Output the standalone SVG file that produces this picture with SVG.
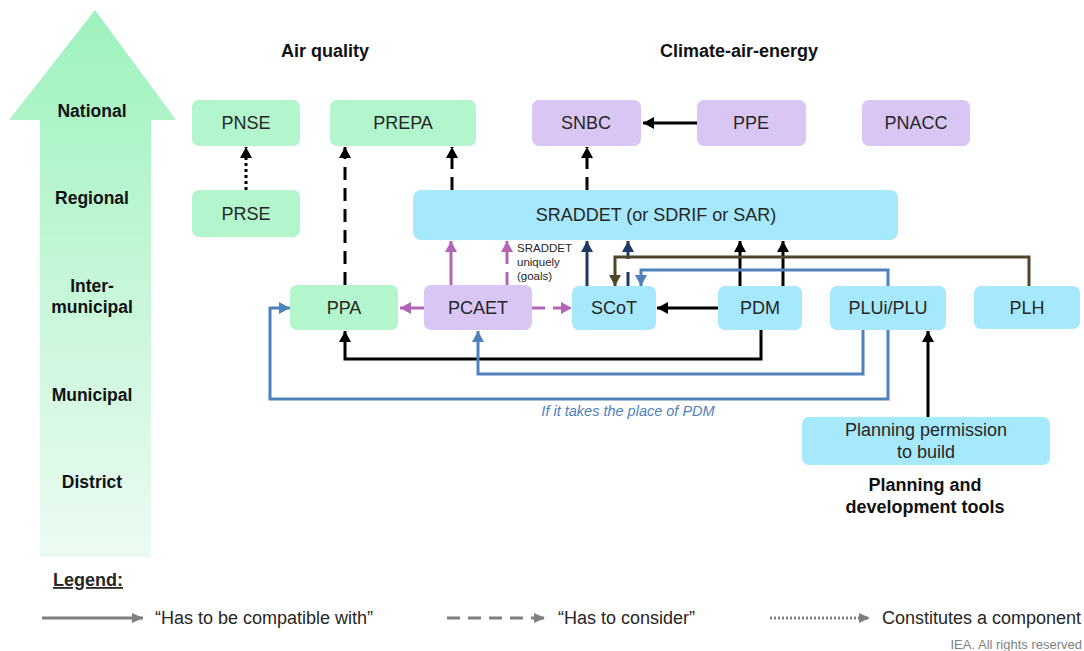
<svg xmlns="http://www.w3.org/2000/svg" width="1084" height="651" viewBox="0 0 1084 651">
  <defs>
    <linearGradient id="levelGrad" x1="0" y1="0" x2="0" y2="1">
      <stop offset="0" stop-color="#9ef2be"/>
      <stop offset="1" stop-color="#ecfbf2"/>
    </linearGradient>
    <marker id="ahBlack" markerUnits="userSpaceOnUse" markerWidth="12" markerHeight="12" refX="11" refY="6" orient="auto">
      <path d="M0,0 L11,6 L0,12 z" fill="#000"/>
    </marker>
    <marker id="ahNavy" markerUnits="userSpaceOnUse" markerWidth="12" markerHeight="12" refX="11" refY="6" orient="auto">
      <path d="M0,0 L11,6 L0,12 z" fill="#1f3864"/>
    </marker>
    <marker id="ahPurple" markerUnits="userSpaceOnUse" markerWidth="12" markerHeight="12" refX="11" refY="6" orient="auto">
      <path d="M0,0 L11,6 L0,12 z" fill="#b464b4"/>
    </marker>
    <marker id="ahBlue" markerUnits="userSpaceOnUse" markerWidth="12" markerHeight="12" refX="11" refY="6" orient="auto">
      <path d="M0,0 L11,6 L0,12 z" fill="#4f81bd"/>
    </marker>
    <marker id="ahBrown" markerUnits="userSpaceOnUse" markerWidth="12" markerHeight="12" refX="11" refY="6" orient="auto">
      <path d="M0,0 L11,6 L0,12 z" fill="#4f4629"/>
    </marker>
    <marker id="ahGray" markerUnits="userSpaceOnUse" markerWidth="12" markerHeight="12" refX="11" refY="6" orient="auto">
      <path d="M0,1 L11,6 L0,11 z" fill="#7f7f7f"/>
    </marker>
  </defs>
  <style>
    .lvl { font-family: "Liberation Sans", Arial, sans-serif; font-size: 17.5px; font-weight: bold; fill: #111; text-anchor: middle; }
    .hdr { font-family: "Liberation Sans", Arial, sans-serif; font-size: 18px; font-weight: bold; fill: #111; text-anchor: middle; }
    .box { stroke: none; }
    .green { fill: #b3f5cc; }
    .purple { fill: #d9c6f5; }
    .blue { fill: #a6e8fc; }
    .lbl { font-family: "Liberation Sans", Arial, sans-serif; font-size: 18px; fill: #262626; text-anchor: middle; }
    .c { fill: none; stroke-width: 3; }
    .k { stroke: #000; }
    .navy { stroke: #1f3864; }
    .pur { stroke: #b464b4; }
    .bl { stroke: #4f81bd; }
    .br { stroke: #4f4629; }
    .dash { stroke-dasharray: 13 8; }
    .dot { stroke-dasharray: 3 3; }
    .note { font-family: "Liberation Sans", Arial, sans-serif; font-size: 11.5px; fill: #262626; }
    .leg { font-family: "Liberation Sans", Arial, sans-serif; font-size: 18px; fill: #262626; }
  </style>

  <!-- vertical governance-level arrow -->
  <g id="levels">
    <path d="M95,10 L176,120 L151,120 L151,557 L40,557 L40,120 L9,120 Z" fill="url(#levelGrad)"/>
    <text class="lvl" x="92" y="117">National</text>
    <text class="lvl" x="92" y="204">Regional</text>
    <text class="lvl" x="92" y="292">Inter-</text>
    <text class="lvl" x="92" y="313">municipal</text>
    <text class="lvl" x="92" y="401">Municipal</text>
    <text class="lvl" x="92" y="488">District</text>
  </g>

  <g id="headers">
    <text class="hdr" x="325" y="57">Air quality</text>
    <text class="hdr" x="739" y="57">Climate-air-energy</text>
  </g>

  <!-- connectors -->
  <g id="connectors">
    <!-- dotted: component of -->
    <path class="c k dot" d="M246,190 L246,147" marker-end="url(#ahBlack)" stroke-width="3.5"/>
    <!-- dashed: has to consider -->
    <path class="c k dash" d="M345,285 L345,147" marker-end="url(#ahBlack)"/>
    <path class="c k dash" d="M452,190 L452,147" marker-end="url(#ahBlack)"/>
    <path class="c k dash" d="M587,190 L587,147" marker-end="url(#ahBlack)"/>
    <!-- PPE to SNBC -->
    <path class="c k" d="M697,123 L643,123" marker-end="url(#ahBlack)"/>
    <!-- PCAET links -->
    <path class="c pur" d="M451,285 L451,241" marker-end="url(#ahPurple)"/>
    <path class="c pur dash" d="M507,285 L507,241" marker-end="url(#ahPurple)" stroke-dasharray="10 6"/>
    <path class="c pur" d="M424,308 L400,308" marker-end="url(#ahPurple)"/>
    <path class="c pur dash" d="M532,308 L572,308" marker-end="url(#ahPurple)" stroke-dasharray="13 10"/>
    <!-- SCoT to SRADDET -->
    <path class="c navy" d="M587,286 L587,241" marker-end="url(#ahNavy)"/>
    <path class="c navy" d="M628,286 L628,272"/>
    <path class="c navy" d="M628,259 L628,241" marker-end="url(#ahNavy)"/>
    <!-- PDM to SRADDET / SCoT -->
    <path class="c k" d="M740,286 L740,241" marker-end="url(#ahBlack)"/>
    <path class="c k" d="M783,286 L783,241" marker-end="url(#ahBlack)"/>
    <path class="c k" d="M718,308 L657,308" marker-end="url(#ahBlack)"/>
    <!-- PLH to SCoT -->
    <path class="c br" d="M1029,286 L1029,257 L615,257 L615,286" marker-end="url(#ahBrown)"/>
    <!-- PLUi/PLU to SCoT -->
    <path class="c bl" d="M888,286 L888,270 L641,270 L641,286" marker-end="url(#ahBlue)"/>
    <!-- PDM to PPA -->
    <path class="c k" d="M761,330 L761,359 L345,359 L345,331" marker-end="url(#ahBlack)"/>
    <!-- PLUi/PLU to PCAET -->
    <path class="c bl" d="M863,330 L863,374 L478,374 L478,331" marker-end="url(#ahBlue)"/>
    <!-- PLUi/PLU to PPA -->
    <path class="c bl" d="M888,330 L888,399 L270,399 L270,308 L290,308" marker-end="url(#ahBlue)"/>
    <!-- planning permission to PLUi/PLU -->
    <path class="c k" d="M928,417 L928,331" marker-end="url(#ahBlack)"/>
    <text class="note" x="517" y="252">SRADDET</text>
    <text class="note" x="517" y="266">uniquely</text>
    <text class="note" x="517" y="280">(goals)</text>
    <text x="628" y="416" font-family="'Liberation Sans', Arial, sans-serif" font-size="14.5" font-style="italic" fill="#4f81bd" text-anchor="middle">If it takes the place of PDM</text>
  </g>

  <g id="PNSE"><rect class="box green" x="192" y="100" width="108" height="46" rx="7"/><text class="lbl" x="246" y="129">PNSE</text></g>
  <g id="PRSE"><rect class="box green" x="192" y="190" width="108" height="47" rx="7"/><text class="lbl" x="246" y="220">PRSE</text></g>
  <g id="PREPA"><rect class="box green" x="330" y="100" width="146" height="46" rx="7"/><text class="lbl" x="403" y="129">PREPA</text></g>
  <g id="SNBC"><rect class="box purple" x="532" y="100" width="109" height="46" rx="7"/><text class="lbl" x="586" y="129">SNBC</text></g>
  <g id="PPE"><rect class="box purple" x="697" y="100" width="109" height="46" rx="7"/><text class="lbl" x="751" y="129">PPE</text></g>
  <g id="PNACC"><rect class="box purple" x="862" y="100" width="108" height="46" rx="7"/><text class="lbl" x="916" y="129">PNACC</text></g>
  <g id="SRADDET"><rect class="box blue" x="413" y="190" width="485" height="50" rx="8"/><text class="lbl" x="656" y="221">SRADDET (or SDRIF or SAR)</text></g>
  <g id="PPA"><rect class="box green" x="290" y="285" width="108" height="45" rx="7"/><text class="lbl" x="344" y="314">PPA</text></g>
  <g id="PCAET"><rect class="box purple" x="424" y="285" width="108" height="45" rx="7"/><text class="lbl" x="478" y="314">PCAET</text></g>
  <g id="SCoT"><rect class="box blue" x="572" y="286" width="84" height="44" rx="7"/><text class="lbl" x="614" y="314">SCoT</text></g>
  <g id="PDM"><rect class="box blue" x="718" y="286" width="84" height="44" rx="7"/><text class="lbl" x="760" y="314">PDM</text></g>
  <g id="PLUi-PLU"><rect class="box blue" x="830" y="286" width="116" height="44" rx="7"/><text class="lbl" x="888" y="314">PLUi/PLU</text></g>
  <g id="PLH"><rect class="box blue" x="974" y="286" width="106" height="43" rx="7"/><text class="lbl" x="1027" y="314">PLH</text></g>
  <g id="permission"><rect class="box blue" x="802" y="417" width="248" height="48" rx="7"/><text class="lbl" x="926" y="436">Planning permission</text><text class="lbl" x="926" y="458">to build</text></g>

  <g id="tools-caption">
    <text class="hdr" x="925" y="491">Planning and</text>
    <text class="hdr" x="925" y="513">development tools</text>
  </g>

  <!-- legend -->
  <g id="legend">
    <text x="53" y="586" font-family="'Liberation Sans', Arial, sans-serif" font-size="18" font-weight="bold" fill="#262626" text-decoration="underline">Legend:</text>
    <path d="M42,618 L143,618" stroke="#7f7f7f" stroke-width="3" fill="none" marker-end="url(#ahGray)"/>
    <text class="leg" x="155" y="624">“Has to be compatible with”</text>
    <path d="M447,618 L545,618" stroke="#7f7f7f" stroke-width="3" fill="none" stroke-dasharray="13 8" marker-end="url(#ahGray)"/>
    <text class="leg" x="558" y="624">“Has to consider”</text>
    <path d="M770,618 L870,618" stroke="#7f7f7f" stroke-width="3" fill="none" stroke-dasharray="2 2" marker-end="url(#ahGray)"/>
    <text class="leg" x="882" y="624">Constitutes a component</text>
    <text x="1082" y="649" font-family="'Liberation Sans', Arial, sans-serif" font-size="13" fill="#7f7f7f" text-anchor="end">IEA. All rights reserved</text>
  </g>
</svg>
